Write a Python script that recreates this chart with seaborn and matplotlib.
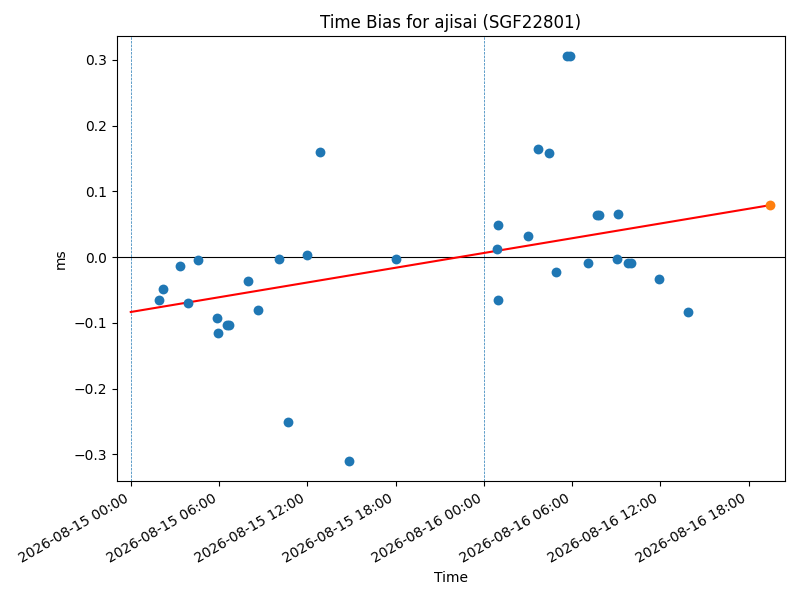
import matplotlib
matplotlib.use("Agg")
import matplotlib.pyplot as plt
import matplotlib.dates as mdates
import pandas as pd
import seaborn as sns

obs_times = [
    "2026-08-15 01:54", "2026-08-15 02:12", "2026-08-15 03:21", "2026-08-15 03:54",
    "2026-08-15 04:35", "2026-08-15 05:52", "2026-08-15 05:56", "2026-08-15 06:32",
    "2026-08-15 06:42", "2026-08-15 07:59", "2026-08-15 08:41", "2026-08-15 10:05",
    "2026-08-15 10:41", "2026-08-15 11:59", "2026-08-15 12:51", "2026-08-15 14:49",
    "2026-08-15 18:01",
    "2026-08-16 00:58", "2026-08-16 00:54", "2026-08-16 00:58", "2026-08-16 03:00",
    "2026-08-16 03:42", "2026-08-16 04:26", "2026-08-16 04:55", "2026-08-16 05:40",
    "2026-08-16 05:51", "2026-08-16 07:05", "2026-08-16 07:40", "2026-08-16 07:52",
    "2026-08-16 09:08", "2026-08-16 09:04", "2026-08-16 09:47", "2026-08-16 09:59",
    "2026-08-16 11:55", "2026-08-16 13:54",
]
obs_bias_ms = [
    -0.066, -0.048, -0.014, -0.070,
    -0.005, -0.093, -0.116, -0.104,
    -0.104, -0.037, -0.081, -0.003,
    -0.251, 0.003, 0.160, -0.311,
    -0.003,
    0.049, 0.013, -0.065, 0.032,
    0.164, 0.158, -0.023, 0.306,
    0.306, -0.009, 0.064, 0.064,
    0.0655, -0.003, -0.009, -0.009,
    -0.034, -0.084,
]
fit_times = ["2026-08-15 00:00", "2026-08-16 19:27"]
fit_bias_ms = [-0.0835, 0.079]
pred_time = ["2026-08-16 19:27"]
pred_bias_ms = [0.079]
day_marks = ["2026-08-15 00:00", "2026-08-16 00:00"]

obs = pd.DataFrame({"time": pd.to_datetime(obs_times), "bias": obs_bias_ms})
fit = pd.DataFrame({"time": pd.to_datetime(fit_times), "bias": fit_bias_ms})
pred = pd.DataFrame({"time": pd.to_datetime(pred_time), "bias": pred_bias_ms})

fig, ax = plt.subplots(figsize=(8, 6), dpi=100)
fig.subplots_adjust(left=0.146, right=0.981, top=0.94, bottom=0.198)

sns.scatterplot(data=obs, x="time", y="bias", ax=ax, color="#1f77b4", s=50, linewidth=0, zorder=3)
sns.lineplot(data=fit, x="time", y="bias", ax=ax, color="red", linewidth=1.5, zorder=2)
sns.scatterplot(data=pred, x="time", y="bias", ax=ax, color="#ff7f0e", s=50, linewidth=0, zorder=4)

ax.axhline(0, color="black", linewidth=0.8, zorder=1)
for d in day_marks:
    ax.axvline(pd.Timestamp(d), color="#1f77b4", linestyle="--", linewidth=0.5, zorder=1)

ax.set_xlim(pd.Timestamp("2026-08-14 23:03"), pd.Timestamp("2026-08-16 20:28"))
ax.set_ylim(-0.341, 0.3365)
ax.xaxis.set_major_locator(mdates.HourLocator(byhour=[0, 6, 12, 18]))
ax.xaxis.set_major_formatter(mdates.DateFormatter("%Y-%m-%d %H:%M"))
for lbl in ax.get_xticklabels():
    lbl.set_rotation(30)
    lbl.set_ha("right")

ax.set_title("Time Bias for ajisai (SGF22801)")
ax.set_xlabel("Time")
ax.set_ylabel("ms")

fig.savefig("out.png", dpi=100)
